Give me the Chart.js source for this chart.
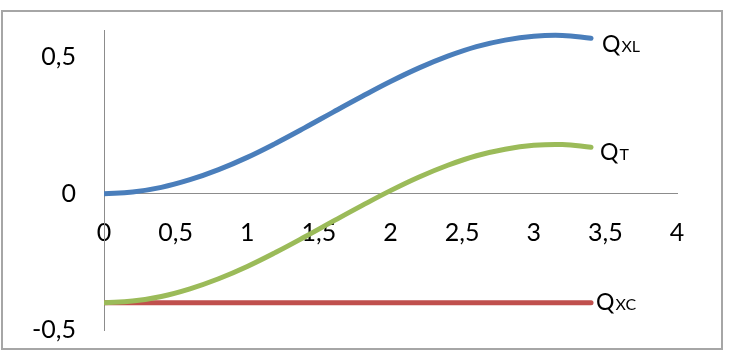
<!DOCTYPE html>
<html><head><meta charset="utf-8">
<script src="https://cdn.jsdelivr.net/npm/chart.js@4"></script>
<style>html,body{margin:0;padding:0;background:#fff}#wrap{width:732px;height:351px;position:relative}</style>
</head><body><div id="wrap"><canvas id="c" width="732" height="351"></canvas></div>
<script>
const xValues = [0,0.2,0.4,0.6,0.8,1.0,1.2,1.4,1.6,1.8,2.0,2.2,2.4,2.6,2.8,3.0,3.2,3.4];
const qxl = [0,0.006,0.023,0.051,0.088,0.133,0.185,0.241,0.299,0.356,0.411,0.461,0.504,0.539,0.563,0.577,0.580,0.570];
const qt  = [-0.4,-0.394,-0.377,-0.349,-0.312,-0.267,-0.215,-0.159,-0.101,-0.044,0.011,0.061,0.104,0.139,0.163,0.177,0.180,0.170];
const qxc = [-0.4,-0.4,-0.4,-0.4,-0.4,-0.4,-0.4,-0.4,-0.4,-0.4,-0.4,-0.4,-0.4,-0.4,-0.4,-0.4,-0.4,-0.4];
const xTicks = [0,0.5,1,1.5,2,2.5,3,3.5,4];
const xTickLabels = ['0','0,5','1','1,5','2','2,5','3','3,5','4'];
const yTicks = [-0.5,0,0.5];
const yTickLabels = ['-0,5','0','0,5'];
const seriesMain = ['Q','Q','Q'];
const seriesSub = ['XL','T','XC'];
const seriesColors = ['#4A7EBB','#9BBB59','#C0504D'];

const FONT = 'Lato, "Liberation Sans", sans-serif';
const labelOffsets = [[11,14],[9,13],[5,7]];

const pts = arr => xValues.map((x,i)=>({x:x, y:arr[i]}));

const seriesLabels = {
  id:'seriesLabels',
  afterDatasetsDraw(chart){
    const ctx = chart.ctx;
    chart.data.datasets.forEach((ds,i)=>{
      const meta = chart.getDatasetMeta(i);
      const last = meta.data[meta.data.length-1];
      const x = last.x + labelOffsets[i][0];
      const y = last.y + labelOffsets[i][1];
      ctx.save();
      ctx.fillStyle = '#000';
      ctx.textBaseline = 'alphabetic';
      ctx.textAlign = 'left';
      ctx.font = '23px ' + FONT;
      ctx.fillText(seriesMain[i], x, y);
      const w = ctx.measureText(seriesMain[i]).width;
      ctx.font = '16px ' + FONT;
      ctx.fillText(seriesSub[i], x + w + 1, y);
      ctx.restore();
    });
  }
};
const outerBorder = {
  id:'outerBorder',
  beforeDraw(chart){
    const ctx = chart.ctx;
    ctx.save();
    ctx.fillStyle = '#fff';
    ctx.fillRect(0,0,chart.width,chart.height);
    ctx.strokeStyle = '#a6a6a6';
    ctx.lineWidth = 2;
    ctx.strokeRect(2,11,720,338);
    ctx.restore();
  }
};

const axisCommon = {
  grid:{display:true, drawOnChartArea:false, drawTicks:false, color:'rgba(0,0,0,0)'},
  border:{display:true, color:'#8c8c8c', width:1}
};

new Chart(document.getElementById('c'), {
  type:'line',
  data:{
    datasets:[
      {label:'QXL', data:pts(qxl), borderColor:seriesColors[0]},
      {label:'QT', data:pts(qt), borderColor:seriesColors[1]},
      {label:'QXC', data:pts(qxc), borderColor:seriesColors[2]}
    ].map(d=>Object.assign(d,{borderWidth:5, pointRadius:0, fill:false, tension:0.4, borderCapStyle:'round', borderJoinStyle:'round'}))
  },
  options:{
    responsive:false, animation:false, devicePixelRatio:1,
    layout:{padding:{left:0, top:30, right:55, bottom:21}},
    plugins:{legend:{display:false}, tooltip:{enabled:false}},
    scales:{
      x:Object.assign({
        type:'linear', min:0, max:4, position:{y:0},
        afterBuildTicks:s=>{ s.ticks = xTicks.map(v=>({value:v})); },
        afterFit:s=>{ s.height = 0; s.paddingLeft = 0; s.paddingRight = 0; },
        ticks:{callback:(v,i)=>xTickLabels[i], font:{family:FONT, size:25}, color:'#000', padding:24, maxRotation:0, autoSkip:false}
      }, axisCommon),
      y:Object.assign({
        type:'linear', min:-0.5, max:0.6,
        afterBuildTicks:s=>{ s.ticks = yTicks.map(v=>({value:v})); },
        afterFit:s=>{ s.width = 104; s.paddingTop = 0; s.paddingBottom = 0; },
        ticks:{callback:(v,i)=>yTickLabels[i], font:{family:FONT, size:25}, color:'#000', padding:28, autoSkip:false}
      }, axisCommon)
    }
  },
  plugins:[outerBorder, seriesLabels]
});
</script></body></html>
